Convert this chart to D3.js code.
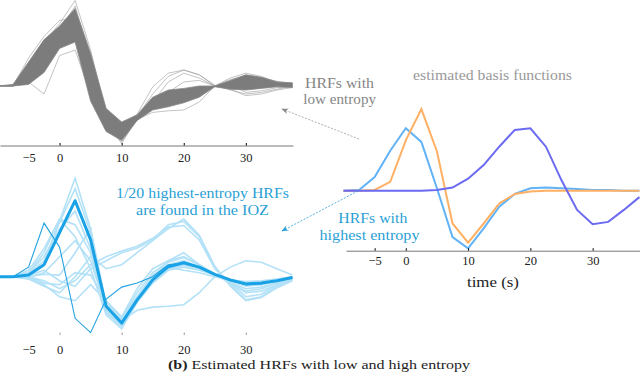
<!DOCTYPE html>
<html>
<head>
<meta charset="utf-8">
<script src="https://cdn.jsdelivr.net/npm/d3@7"></script>
<style>
  body { margin: 0; background: #fff; }
  svg { display: block; }
  text { font-family: "Liberation Serif", "DejaVu Serif", serif; }
</style>
</head>
<body>
<svg id="fig"></svg>
<script>
// sample times (s)
var times = [-10, -7.5, -5, -2.5, 0, 2.5, 5, 7.5, 10, 12.5, 15, 17.5, 20, 22.5, 25, 27.5, 30, 32.5, 35, 37.5];
var tickVals = [-5, 0, 10, 20, 30];

// low entropy HRFs: dense band + a few individual curves
var bandHi = [0, 0.02, 0.3, 0.58, 0.75, 0.97, 0.41, -0.28, -0.45, -0.36, -0.14, -0.05, -0.03, 0.0, 0.0, 0.07, 0.14, 0.11, 0.05, 0.04];
var bandLo = [0, 0, 0.02, 0.17, 0.47, 0.55, -0.19, -0.57, -0.68, -0.43, -0.3, -0.26, -0.21, -0.14, -0.01, -0.04, -0.05, -0.03, -0.01, -0.02];
var lowCurves = [
  [0, 0, 0.25, 0.55, 0.78, 1.07, 0.45, -0.35, -0.6, -0.38, -0.1, 0.12, 0.2, 0.14, 0.0, -0.04, -0.12, -0.1, -0.05, -0.02],
  [0, 0, 0.05, -0.1, 0.38, 0.45, -0.1, -0.5, -0.62, -0.4, -0.2, 0.05, 0.16, 0.1, 0.0, 0.1, 0.16, 0.12, 0.05, 0.01],
  [0, 0, 0.35, 0.62, 0.82, 0.85, 0.3, -0.3, -0.5, -0.35, -0.01, 0.16, 0.2, 0.14, 0.01, -0.05, -0.1, -0.08, -0.04, 0],
  [0, 0, 0.1, 0.3, 0.5, 0.7, 0.0, -0.5, -0.7, -0.42, -0.33, -0.31, -0.3, -0.2, 0, 0.08, 0.13, 0.1, 0.05, 0.02],
  [0, 0.01, 0.2, 0.45, 0.65, 0.92, 0.3, -0.45, -0.72, -0.4, -0.22, -0.12, -0.08, -0.05, 0, 0.03, 0.1, 0.08, 0.04, 0.03],
  [0, 0, 0.12, 0.35, 0.6, 0.78, 0.15, -0.4, -0.55, -0.4, -0.25, -0.18, -0.12, -0.07, 0, 0.02, -0.08, -0.06, -0.02, 0.0],
  [0, 0, 0.15, 0.4, 0.7, 1.0, 0.35, -0.45, -0.65, -0.38, -0.18, -0.08, 0.05, 0.07, 0.0, -0.03, -0.04, -0.02, 0, 0.01],
  [0, 0, 0.22, 0.5, 0.58, 0.62, 0.05, -0.55, -0.66, -0.41, -0.26, -0.2, -0.16, -0.1, 0, 0.05, 0.12, 0.1, 0.06, 0.03]
];

// highest entropy HRFs (1/20 found in the IOZ)
var highLight = [
  [0, 0, 0.02, 0.15, 0.7, 1.23, 0.6, -0.45, -0.62, -0.3, -0.02, 0.2, 0.3, 0.15, 0.03, -0.08, -0.15, -0.13, -0.08, -0.02],
  [0, 0, 0.03, 0.2, 0.68, 1.1, 0.55, -0.4, -0.55, -0.25, 0.02, 0.15, 0.2, 0.12, 0.02, -0.05, -0.1, -0.1, -0.06, -0.02],
  [0, 0, 0.05, 0.3, 0.72, 0.65, 0.3, -0.45, -0.6, -0.3, -0.05, 0.1, 0.15, 0.1, 0.02, -0.06, -0.12, -0.1, -0.05, -0.01],
  [0, 0, 0.08, 0.35, 0.72, 0.5, 0.1, -0.48, -0.65, -0.32, -0.08, 0.08, 0.12, 0.08, 0.02, -0.05, -0.1, -0.08, -0.04, 0],
  [0, 0, 0.02, 0.08, -0.05, -0.12, 0.1, 0.2, 0.3, 0.36, 0.46, 0.65, 0.69, 0.5, 0.12, -0.1, -0.29, -0.25, -0.12, -0.04],
  [0, 0, 0.0, -0.05, -0.15, -0.05, 0.15, 0.25, 0.32, 0.38, 0.48, 0.62, 0.64, 0.46, 0.1, -0.08, -0.25, -0.22, -0.1, -0.03],
  [0, 0, -0.03, -0.12, -0.2, 0.0, 0.25, 0.1, 0.15, 0.3, 0.45, 0.6, 0.72, 0.52, 0.13, -0.12, -0.3, -0.26, -0.14, -0.05],
  [0, 0, 0.0, -0.08, -0.1, 0.05, 0.02, -0.3, -0.55, -0.42, -0.38, -0.37, -0.35, -0.2, 0.0, 0.12, 0.2, 0.18, 0.1, 0.02],
  [0, 0, 0.0, 0.05, 0.25, 0.45, 0.2, -0.4, -0.52, -0.2, 0.05, 0.18, 0.24, 0.15, 0.03, -0.08, -0.2, -0.18, -0.1, -0.02],
  [0, 0, 0.05, 0.25, 0.6, 0.82, 0.35, -0.42, -0.6, -0.28, -0.04, 0.1, 0.14, 0.1, 0.02, -0.05, -0.08, -0.07, -0.04, 0],
  [0, 0, 0, 0.03, 0.02, 0.3, 0.6, -0.35, -0.5, -0.25, 0.0, 0.12, 0.08, 0.05, 0.0, -0.04, -0.06, -0.05, -0.03, 0],
  [0, 0, -0.02, -0.1, -0.25, -0.3, -0.1, -0.3, -0.5, -0.15, 0.1, 0.2, 0.25, 0.15, 0.03, -0.08, -0.18, -0.15, -0.08, -0.02]
];
var highDark = [0, 0, 0.12, 0.67, 0.37, -0.52, -0.7, -0.28, -0.13, -0.08, 0.0, 0.15, 0.17, 0.12, 0.03, -0.05, -0.1, -0.09, -0.05, -0.01];
var highMean = [0, 0, 0.02, 0.15, 0.55, 0.95, 0.46, -0.37, -0.58, -0.29, -0.04, 0.125, 0.175, 0.12, 0.03, -0.04, -0.09, -0.08, -0.05, -0.01];

// estimated basis functions
var basisBlue = [0, 0.01, 0.17, 0.5, 0.78, 0.61, 0.03, -0.58, -0.72, -0.47, -0.2, -0.04, 0.03, 0.04, 0.03, 0.02, 0.01, 0.01, 0.0, 0.0];
var basisOrange = [0, 0, 0.01, 0.11, 0.63, 1.02, 0.49, -0.41, -0.65, -0.41, -0.16, -0.04, -0.01, 0, 0, 0, 0, 0, 0, 0];
var basisPurple = [0, 0, 0, 0, 0, 0, 0.01, 0.04, 0.15, 0.32, 0.55, 0.76, 0.78, 0.55, 0.13, -0.24, -0.42, -0.39, -0.24, -0.08];

var svg = d3.select('#fig').attr('width', 640).attr('height', 380);
svg.append('rect').attr('width', 640).attr('height', 380).attr('fill', '#fff');

var blueText = '#2a9fd6';
var grayText = '#858585';

// scales
var xLeft = d3.scaleLinear().domain([-9.6, 37.6]).range([0, 293]);
var xRight = d3.scaleLinear().domain([-9.6, 37.6]).range([346, 640]);
var yTop = d3.scaleLinear().domain([-0.75, 1.05]).range([146, 2]);
var yBot = d3.scaleLinear().domain([-0.75, 1.05]).range([336.7, 192.7]);
var yRight = d3.scaleLinear().domain([-0.75, 1.05]).range([250.7, 106.7]);

function lineFor(x, y) {
    return d3.line()
        .x(function (d, i) { return x(times[i]); })
        .y(function (d) { return y(d); });
}

// ---- top left: low entropy ----
var gTop = svg.append('g');
gTop.selectAll('.low').data(lowCurves).enter().append('path')
    .attr('class', 'low')
    .attr('d', lineFor(xLeft, yTop))
    .attr('fill', 'none')
    .attr('stroke', '#9a9a9a')
    .attr('stroke-width', 0.6);
var band = d3.area()
    .x(function (d, i) { return xLeft(times[i]); })
    .y0(function (d, i) { return yTop(bandLo[i]); })
    .y1(function (d) { return yTop(d); });
gTop.append('path').datum(bandHi)
    .attr('d', band)
    .attr('fill', '#7c7c7c')
    .attr('stroke', '#888')
    .attr('stroke-width', 0.8);

var axTop = svg.append('g')
    .attr('transform', 'translate(0,145.5)')
    .call(d3.axisBottom(xLeft).tickValues(tickVals).tickSize(-2.5).tickPadding(8).tickSizeOuter(0));

// ---- bottom left: highest entropy ----
var gBot = svg.append('g');
gBot.selectAll('.hl').data(highLight).enter().append('path')
    .attr('class', 'hl')
    .attr('d', lineFor(xLeft, yBot))
    .attr('fill', 'none')
    .attr('stroke', '#b3e1f7')
    .attr('stroke-width', 1.6);
gBot.append('path').datum(highDark)
    .attr('d', lineFor(xLeft, yBot))
    .attr('fill', 'none')
    .attr('stroke', '#23a2e0')
    .attr('stroke-width', 1.1);
gBot.append('path').datum(highMean)
    .attr('d', lineFor(xLeft, yBot))
    .attr('fill', 'none')
    .attr('stroke', '#1aa2e6')
    .attr('stroke-width', 3)
    .attr('stroke-linejoin', 'round');

var axBot = svg.append('g')
    .attr('transform', 'translate(0,335)')
    .call(d3.axisBottom(xLeft).tickValues(tickVals).tickSize(-2.5).tickPadding(10));
axBot.select('.domain').remove();
axBot.selectAll('.tick line').attr('stroke', '#999');

// ---- right: basis functions ----
var gR = svg.append('g');
[[basisBlue, '#62b2f6'], [basisOrange, '#ffb064'], [basisPurple, '#6a6af2']].forEach(function (s) {
    gR.append('path').datum(s[0])
        .attr('d', lineFor(xRight, yRight))
        .attr('fill', 'none')
        .attr('stroke', s[1])
        .attr('stroke-width', 2);
});
var axR = svg.append('g')
    .attr('transform', 'translate(0,250.7)')
    .call(d3.axisBottom(xRight).tickValues(tickVals).tickSize(-2.5).tickPadding(5.5).tickSizeOuter(0));

[axTop, axBot, axR].forEach(function (ax) {
    ax.selectAll('text').attr('font-size', 12.5).attr('fill', '#222')
        .style('font-family', '"Liberation Serif", serif');
    ax.select('.domain').attr('stroke', '#777');
});
axTop.selectAll('.tick').filter(function (d) { return d === -5; }).select('line').remove();
axBot.selectAll('.tick').filter(function (d) { return d === -5; }).select('line').remove();

// ---- text ----
function label(txt, cx, y, w, size, color) {
    svg.append('text')
        .attr('x', cx).attr('y', y)
        .attr('text-anchor', 'middle')
        .attr('font-size', size)
        .attr('fill', color)
        .attr('textLength', w)
        .attr('lengthAdjust', 'spacingAndGlyphs')
        .text(txt);
}
label('estimated basis functions', 492.5, 79.5, 159, 14, '#999');
label('HRFs with', 339.5, 87.5, 69, 14, grayText);
label('low entropy', 339.7, 104, 72.7, 14, grayText);
label('1/20 highest-entropy HRFs', 202.5, 198, 173, 14, blueText);
label('are found in the IOZ', 202.5, 215, 133, 14, blueText);
label('HRFs with', 372.8, 223, 69, 14, blueText);
label('highest entropy', 369.5, 239.5, 100, 14, blueText);
label('time (s)', 493, 286.5, 52, 15, '#222');

var cap = svg.append('text')
    .attr('x', 319).attr('y', 368.5)
    .attr('text-anchor', 'middle')
    .attr('font-size', 13)
    .attr('fill', '#222')
    .attr('textLength', 302)
    .attr('lengthAdjust', 'spacingAndGlyphs');
cap.append('tspan').attr('font-weight', 'bold').text('(b)');
cap.append('tspan').text(' Estimated HRFs with low and high entropy');

// ---- dashed arrows ----
var defs = svg.append('defs');
[['arrGray', '#888'], ['arrBlue', '#2aa0d8']].forEach(function (a) {
    defs.append('marker')
        .attr('id', a[0])
        .attr('viewBox', '0 0 10 10')
        .attr('refX', 9).attr('refY', 5)
        .attr('markerWidth', 7).attr('markerHeight', 7)
        .attr('markerUnits', 'userSpaceOnUse')
        .attr('orient', 'auto')
        .append('path')
        .attr('d', 'M0,1 L10,5 L0,9 L3,5 Z')
        .attr('fill', a[1]);
});
svg.append('line')
    .attr('x1', 359).attr('y1', 139).attr('x2', 282).attr('y2', 109)
    .attr('stroke', '#999').attr('stroke-width', 0.8)
    .attr('stroke-dasharray', '2,1.5')
    .attr('marker-end', 'url(#arrGray)');
svg.append('line')
    .attr('x1', 358).attr('y1', 191).attr('x2', 282).attr('y2', 231)
    .attr('stroke', '#2aa0d8').attr('stroke-width', 0.8)
    .attr('stroke-dasharray', '2,1.5')
    .attr('marker-end', 'url(#arrBlue)');
</script>
</body>
</html>
